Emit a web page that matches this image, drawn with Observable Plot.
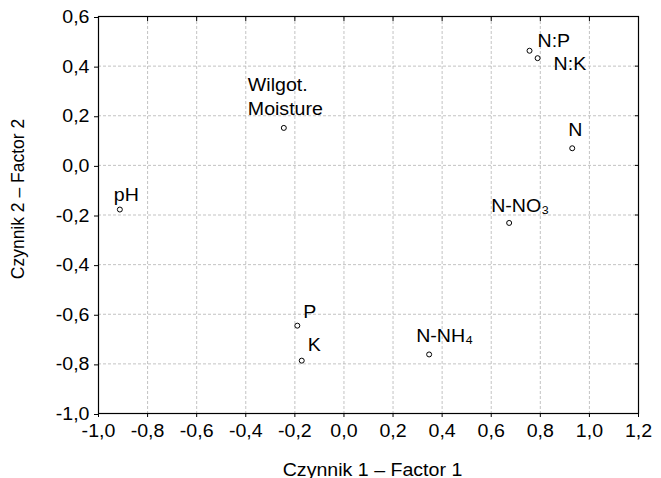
<!DOCTYPE html>
<html>
<head>
<meta charset="utf-8">
<script src="https://cdn.jsdelivr.net/npm/d3@7"></script>
<script src="https://cdn.jsdelivr.net/npm/@observablehq/plot@0.6"></script>
<style>
  html, body { margin: 0; padding: 0; background: #fff; }
  #chart { width: 661px; height: 478px; }
  svg { font-family: "Liberation Sans", Arial, sans-serif; }
</style>
</head>
<body>
<div id="chart"></div>
<script>
// ---- data ----
const variables = ["N:P", "N:K", "N", "N-NO₃", "N-NH₄", "P", "K", "pH", "Wilgot.\nMoisture"];
const factor1 = [0.756, 0.789, 0.930, 0.673, 0.347, -0.190, -0.172, -0.913, -0.245];
const factor2 = [0.462, 0.432, 0.069, -0.232, -0.762, -0.646, -0.787, -0.178, 0.151];
const xTicks = [-1.0, -0.8, -0.6, -0.4, -0.2, 0.0, 0.2, 0.4, 0.6, 0.8, 1.0, 1.2];
const yTicks = [-1.0, -0.8, -0.6, -0.4, -0.2, 0.0, 0.2, 0.4, 0.6];
const xLabel = "Czynnik 1 – Factor 1";
const yLabel = "Czynnik 2 – Factor 2";

// ---- layout (label offsets in px, not data) ----
const labelDx = [8, 16, -4, -18, -13, 6, 6, -6, -36];
const labelDy = [-4, 12, -12, -11, -12, -8, -10, -9, -13];
const stretch = 1.12;
const fs = 17.5;

const table = variables.map((name, i) => ({ name, x: factor1[i], y: factor2[i] }));

const fmt = d => d.toFixed(1).replace(".", ",");

const plot = Plot.plot({
  width: 661,
  height: 478,
  marginLeft: 98,
  marginRight: 23,
  marginTop: 16,
  marginBottom: 65,
  style: { fontSize: fs + "px", fontFamily: "Liberation Sans, Arial, sans-serif", color: "#000", background: "#fff" },
  x: { domain: [-1.0, 1.2] },
  y: { domain: [-1.0, 0.6] },
  marks: [
    Plot.gridX(xTicks, { stroke: "#b4b4b4", strokeOpacity: 1, strokeDasharray: "3,2", strokeWidth: 0.8 }),
    Plot.gridY(yTicks, { stroke: "#b4b4b4", strokeOpacity: 1, strokeDasharray: "3,2", strokeWidth: 0.8 }),
    Plot.axisX(xTicks, { anchor: "bottom", tickSize: 4, tickPadding: 7, tickFormat: fmt, fontSize: fs, label: null }),
    Plot.axisY(yTicks, { anchor: "left", tickSize: 4, tickPadding: 5, tickFormat: fmt, fontSize: fs, label: null, dy: 1 }),
    Plot.axisX(xTicks, { anchor: "top", tickSize: -4, tickFormat: () => "", label: null }),
    Plot.axisY(yTicks, { anchor: "right", tickSize: -4, tickFormat: () => "", label: null }),
    Plot.frame({ stroke: "#000", strokeWidth: 1.2 }),
    Plot.text([xLabel], { frameAnchor: "bottom", text: d => d, dx: 4, dy: 62, lineAnchor: "bottom",
      textAnchor: "middle", fontSize: fs, fill: "#000" }),
    Plot.text([yLabel], { frameAnchor: "left", text: d => d, dx: -80, dy: -16, rotate: -90, lineAnchor: "middle",
      textAnchor: "middle", fontSize: fs, fill: "#000" }),
    Plot.dot(table, { x: "x", y: "y", r: 2.5, stroke: "#000", fill: "#fff", strokeWidth: 1 }),
    Plot.text(table, { x: "x", y: "y", text: "name", textAnchor: "start", lineAnchor: "bottom",
      lineHeight: 1.37, fontSize: fs, fill: "#000" })
  ]
});

const svg = plot.tagName.toLowerCase() === "svg" ? plot : plot.querySelector("svg");
const textGroups = svg.querySelectorAll("g[aria-label='text']");
const xTitleG = textGroups[0], labelsG = textGroups[2];

function addTransform(el, extra) {
  const prev = el.getAttribute("transform") || "";
  el.setAttribute("transform", (prev + " " + extra).trim());
}
// per-label offsets and horizontal stretch of the reference's lettering
labelsG.querySelectorAll("text").forEach((el, i) => {
  addTransform(el, `translate(${labelDx[i]},${labelDy[i]}) scale(${stretch},1)`);
});
xTitleG.querySelectorAll("text").forEach(el => addTransform(el, `scale(${stretch},1)`));
svg.querySelectorAll("g[aria-label='x-axis tick label'] text, g[aria-label='y-axis tick label'] text")
  .forEach(el => addTransform(el, `scale(${stretch},1)`));

document.getElementById("chart").appendChild(plot);
</script>
</body>
</html>
